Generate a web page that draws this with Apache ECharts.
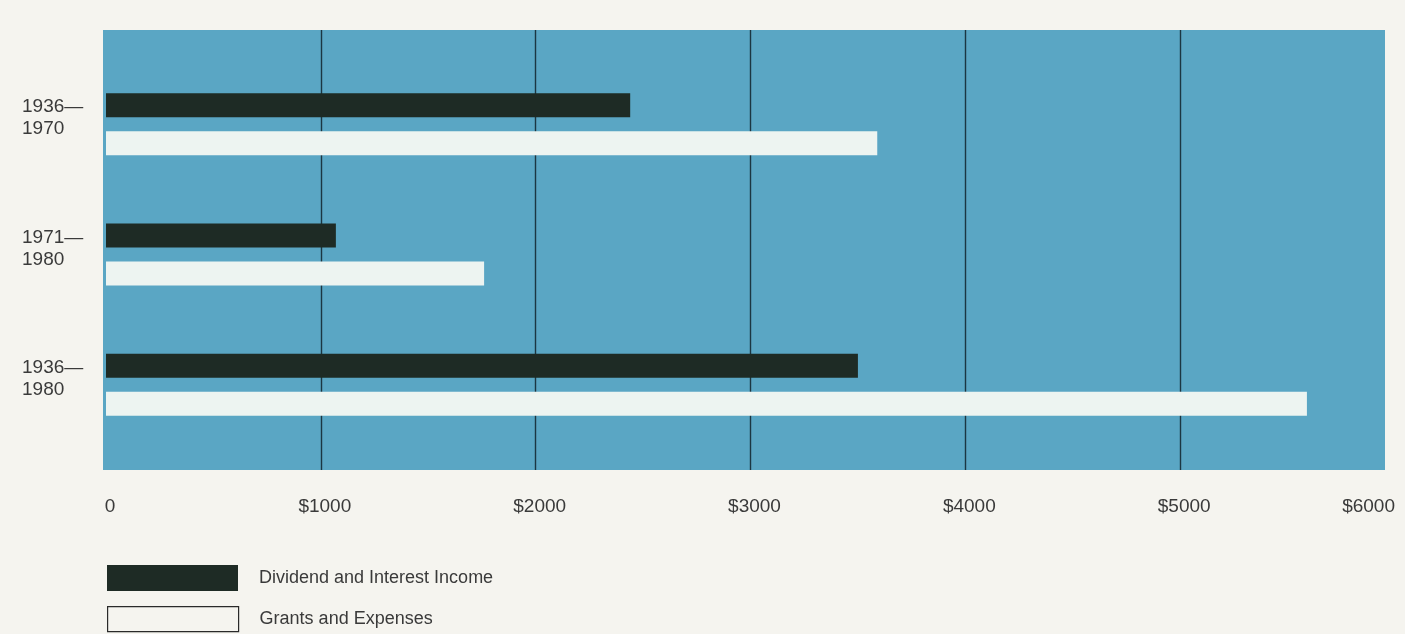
<!DOCTYPE html>
<html>
<head>
<meta charset="utf-8">
<script src="https://cdn.jsdelivr.net/npm/echarts@6/dist/echarts.min.js"></script>
<style>
  html, body { margin: 0; padding: 0; background: #f5f4ef; }
  #chart { width: 1405px; height: 634px; }
</style>
</head>
<body>
<div id="chart"></div>
<script>
// periods (top to bottom)
const periods = ['1936\u2014\n1970', '1971\u2014\n1980', '1936\u2014\n1980']
// thousands of dollars
const income = [2440, 1070, 3500]
const grants = [3590, 1760, 5590]
const xTicks = [0, 1000, 2000, 3000, 4000, 5000, 6000]
const seriesNames = ['Dividend and Interest Income', 'Grants and Expenses']

const chart = echarts.init(document.getElementById('chart'))
const font = 'Liberation Sans, Arial, sans-serif'

const legendBase = {
  left: 102,
  itemWidth: 131,
  itemHeight: 26,
  icon: 'rect',
  textStyle: { fontFamily: font, fontSize: 18, color: '#3a3a3a', padding: [0, 0, 0, 16] }
}

const option = {
  backgroundColor: '#f5f4ef',
  animation: false,
  grid: [
    // blue panel
    { left: 103, right: 20, top: 30, bottom: 164, show: true, backgroundColor: '#5aa6c4', borderWidth: 0, outerBoundsMode: 'none' },
    // value scale with grid lines
    { left: 106, right: 10, top: 30, bottom: 164, outerBoundsMode: 'none' },
    // bars
    { left: 106, right: 10, top: 59, bottom: 184, outerBoundsMode: 'none' }
  ],
  legend: [
    Object.assign({}, legendBase, {
      top: 560,
      data: [{ name: seriesNames[0] }]
    }),
    Object.assign({}, legendBase, {
      top: 601,
      itemHeight: 25,
      data: [{ name: seriesNames[1], itemStyle: { color: '#f5f4ef', borderColor: '#2a2a2a', borderWidth: 1.2 } }]
    })
  ],
  xAxis: [
    { gridIndex: 0, type: 'value', show: false, min: 0, max: 1 },
    {
      gridIndex: 1,
      type: 'value',
      min: 0,
      max: 6000,
      interval: 1000,
      axisLine: { show: false },
      axisTick: { show: false },
      splitLine: { show: true, showMinLine: false, showMaxLine: false, lineStyle: { color: '#1b3642', width: 1.4 } },
      axisLabel: {
        margin: 27,
        fontFamily: font,
        fontSize: 19,
        color: '#3a3a3a',
        alignMaxLabel: 'right',
        padding: [0, 0, 0, 8],
        formatter: v => (xTicks.indexOf(v) === 0 ? '0' : '$' + v)
      }
    },
    { gridIndex: 2, type: 'value', show: false, min: 0, max: 6000 }
  ],
  yAxis: [
    { gridIndex: 0, type: 'value', show: false, min: 0, max: 1 },
    { gridIndex: 1, type: 'category', show: false, data: periods },
    {
      gridIndex: 2,
      type: 'category',
      inverse: true,
      data: periods,
      axisLine: { show: false },
      axisTick: { show: false },
      axisLabel: {
        align: 'left',
        margin: 84,
        fontFamily: font,
        fontSize: 19,
        lineHeight: 22,
        color: '#3a3a3a',
        // blank trailing line lifts the two text lines up beside the dark bar
        formatter: v => v + '\n{s| }',
        rich: { s: { lineHeight: 12, fontSize: 8 } }
      }
    }
  ],
  series: [
    {
      name: seriesNames[0],
      type: 'bar',
      xAxisIndex: 2,
      yAxisIndex: 2,
      barWidth: 24,
      barGap: '58%',
      itemStyle: { color: '#1e2b25' },
      data: income
    },
    {
      name: seriesNames[1],
      type: 'bar',
      xAxisIndex: 2,
      yAxisIndex: 2,
      barWidth: 24,
      barGap: '58%',
      itemStyle: { color: '#edf4f1' },
      data: grants
    }
  ]
}

chart.setOption(option)
</script>
</body>
</html>
